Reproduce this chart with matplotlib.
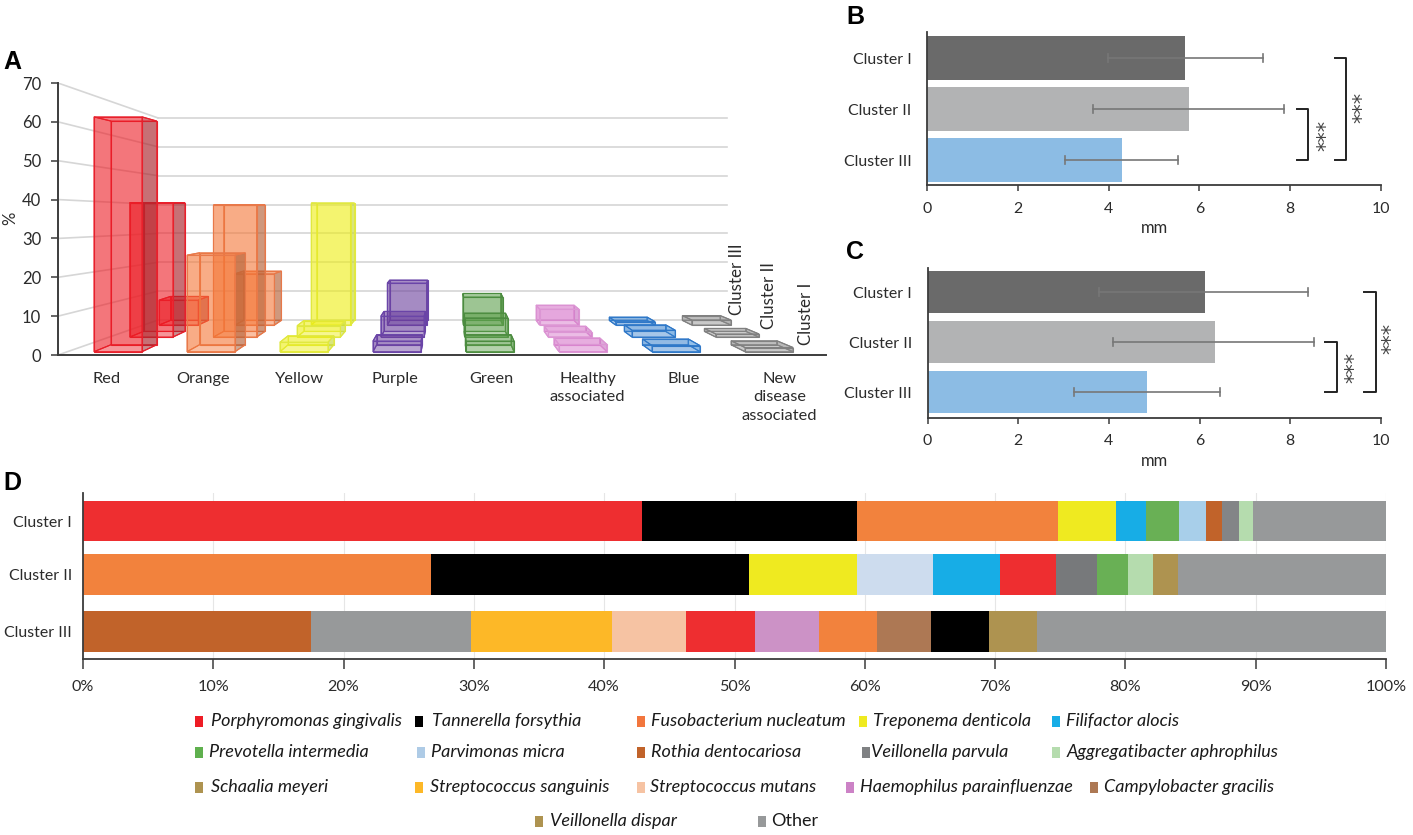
import matplotlib
matplotlib.use("Agg")
import matplotlib.pyplot as plt
from matplotlib.patches import Polygon, Rectangle

plt.rcParams['font.family'] = ['Lato', 'DejaVu Sans']
W, H = 1413, 835
TXT = '#2b2b2b'
AX = '#3c3c3c'

# ---------------- data ----------------
complexes = ['Red', 'Orange', 'Yellow', 'Purple', 'Green', 'Healthy\nassociated', 'Blue', 'New\ndisease\nassociated']
cluster1_pct = [61.8, 25.4, 2.5, 2.8, 2.8, 1.9, 1.6, 1.1]
cluster2_pct = [39.3, 38.6, 3.3, 6.1, 5.6, 1.6, 2.0, 0.9]
cluster3_pct = [8.0, 16.5, 39.2, 13.5, 9.0, 5.1, 1.1, 1.6]
complex_colors = ['#ed1c24', '#f57636', '#eeee11', '#6b3f9d', '#5ea04c', '#d66fc8', '#3d85d0', '#8c8c8c']
complex_edges = ['#e8202c', '#e8794a', '#e0e840', '#6a45a8', '#4c8c40', '#dc96d4', '#2f78c8', '#808080']
complex_sides = ['#8c2a30', '#9a5a3a', '#b5cf50', '#5a3a8c', '#4c8c40', '#c080c0', '#6aaee8', '#909090']

clusters = ['Cluster I', 'Cluster II', 'Cluster III']
bar_colors = ['#6a6a6a', '#b2b3b4', '#8cbce4']
b_mean = [5.68, 5.78, 4.30]
b_low = [3.98, 3.65, 3.03]
b_high = [7.40, 7.87, 5.53]
c_mean = [6.12, 6.33, 4.85]
c_low = [3.79, 4.10, 3.22]
c_high = [8.39, 8.52, 6.46]

d_values = [
    [42.9, 16.5, 15.4, 4.5, 2.3, 2.5, 2.1, 1.2, 1.3, 1.1, 10.2],
    [26.7, 24.4, 8.3, 5.8, 5.2, 4.3, 3.1, 2.4, 1.9, 1.9, 16.0],
    [17.5, 12.3, 10.8, 5.7, 5.3, 4.9, 4.4, 4.2, 4.4, 3.7, 26.8],
]
d_colors = [
    ['#ee2e30', '#000000', '#f2823d', '#efea20', '#17ade6', '#69b055', '#a8cfea', '#c1632a', '#838587', '#b5dcae', '#97999a'],
    ['#f2823d', '#000000', '#efea20', '#cddcee', '#17ade6', '#ee2e30', '#77797b', '#69b055', '#b5dcae', '#ae9350', '#97999a'],
    ['#c1632a', '#97999a', '#fdb827', '#f6c3a3', '#ee2e30', '#cc92c6', '#f2823d', '#ad7854', '#000000', '#ae9350', '#97999a'],
]
legend_rows = [
    ['Porphyromonas gingivalis', 'Tannerella forsythia', 'Fusobacterium nucleatum', 'Treponema denticola', 'Filifactor alocis'],
    ['Prevotella intermedia', 'Parvimonas micra', 'Rothia dentocariosa', 'Veillonella parvula', 'Aggregatibacter aphrophilus'],
    ['Schaalia meyeri', 'Streptococcus sanguinis', 'Streptococcus mutans', 'Haemophilus parainfluenzae', 'Campylobacter gracilis'],
    ['Veillonella dispar', 'Other'],
]
legend_colors = [
    ['#ee1c25', '#000000', '#f2763d', '#efea20', '#17ade6'],
    ['#5fb04e', '#aecbe6', '#c1632a', '#7f8183', '#b5dcae'],
    ['#ae9350', '#fdb827', '#f6c3a3', '#cc82c6', '#ad7854'],
    ['#ae9350', '#97999a'],
]

# ---------------- helpers ----------------
fig = plt.figure(figsize=(W / 100, H / 100), dpi=100, facecolor='white')


def ax_px(x0, top, x1, bottom, **kw):
    return fig.add_axes([x0 / W, 1 - bottom / H, (x1 - x0) / W, (bottom - top) / H], **kw)


def fig_text(x, y, s, **kw):
    kw.setdefault('color', TXT)
    kw.setdefault('va', 'center')
    fig.text(x / W, 1 - y / H, s, **kw)


# ---------------- Panel A: perspective 3D bars ----------------
axA = ax_px(58, 83, 826, 355)
axA.set_xlim(58, 826)
axA.set_ylim(0, 70)
VX, VY, FLOOR, PX_PER_PCT, AXIS_BASE, AXIS_SCALE = 452, 205, 351.7, 3.8, 355, 3.886
DEPTH_STEP, DEPTH_THICK, X_START, X_STEP, BAR_W = 0.111, 0.05, 94, 93, 48


def proj(X, z, v):
    s = 1 / (1 + z)
    x = VX + (X - VX) * s
    ypx = VY + (FLOOR - v * PX_PER_PCT - VY) * s
    return x, (AXIS_BASE - ypx) / AXIS_SCALE


# back wall and side wall lines
for v in range(0, 80, 10):
    wall = 9 + v * 0.743
    axA.plot([158, 727], [wall, wall], color='#d6d6d6', lw=1.2, zorder=1)
    axA.plot([58, 158], [v, wall], color='#d6d6d6', lw=1.2, zorder=1)


def box(i, k, v):
    xl = X_START + X_STEP * i
    xr = xl + BAR_W
    zf = k * DEPTH_STEP
    zb = zf + DEPTH_THICK
    P = proj
    col, edge, side = complex_colors[i], complex_edges[i], complex_sides[i]
    faces = [
        ([P(xl, zb, 0), P(xr, zb, 0), P(xr, zb, v), P(xl, zb, v)], col, 0.37),
        ([P(xl, zf, 0), P(xr, zf, 0), P(xr, zb, 0), P(xl, zb, 0)], col, 0.15),
        ([P(xl, zf, 0), P(xl, zb, 0), P(xl, zb, v), P(xl, zf, v)], col, 0.37),
        ([P(xr, zf, 0), P(xr, zb, 0), P(xr, zb, v), P(xr, zf, v)], side, 0.45),
        ([P(xl, zf, v), P(xr, zf, v), P(xr, zb, v), P(xl, zb, v)], col, 0.30),
        ([P(xl, zf, 0), P(xr, zf, 0), P(xr, zf, v), P(xl, zf, v)], col, 0.37),
    ]
    for pts, c, a in faces:
        axA.add_patch(Polygon(pts, closed=True, facecolor=matplotlib.colors.to_rgba(c, a),
                              edgecolor=edge, lw=0.8, zorder=3 + (2 - k), clip_on=False))


for k, series in reversed(list(enumerate([cluster1_pct, cluster2_pct, cluster3_pct]))):
    for i, v in enumerate(series):
        box(i, k, v)

for sp in ['top', 'right']:
    axA.spines[sp].set_visible(False)
for sp in ['left', 'bottom']:
    axA.spines[sp].set_color(AX)
    axA.spines[sp].set_linewidth(1.4)
axA.set_yticks(range(0, 80, 10))
axA.tick_params(axis='y', length=5, width=1.1, color=AX, pad=7, labelsize=12, labelcolor=TXT)
axA.set_xticks([107 + 96.1 * i for i in range(len(complexes))])
axA.set_xticklabels(complexes, fontsize=11.8, color=TXT, linespacing=1.42)
axA.tick_params(axis='x', length=0, pad=12)
fig_text(10, 218, '%', rotation=90, ha='center', fontsize=12)
for s, x, yb in [('Cluster III', 737, 315), ('Cluster II', 769, 329), ('Cluster I', 806, 345)]:
    fig_text(x, yb, s, rotation=90, ha='center', va='bottom', fontsize=12.2)


# ---------------- Panels B and C ----------------
def hbar_panel(rect, ylim, mean, low, high, brackets, stars):
    ax = ax_px(*rect)
    ypos = range(len(clusters))
    ax.barh(list(ypos), mean, height=0.85, color=bar_colors, zorder=2)
    for y, lo, hi in zip(ypos, low, high):
        ax.plot([lo, hi], [y, y], color='#777777', lw=1.2, zorder=3)
        for e in (lo, hi):
            ax.plot([e, e], [y - 0.075, y + 0.075], color='#777777', lw=1.2, zorder=3)
    ax.set_xlim(0, 10)
    ax.set_ylim(*ylim)
    ax.set_yticks(list(ypos))
    ax.set_yticklabels(clusters, fontsize=11.4, color=TXT)
    ax.set_xticks(range(0, 12, 2))
    ax.tick_params(axis='y', length=0, pad=11)
    ax.tick_params(axis='x', length=4, width=1.1, color=AX, labelsize=11.4, labelcolor=TXT, pad=8)
    ax.set_xlabel('mm', fontsize=12, color=TXT, labelpad=3)
    for sp in ['top', 'right']:
        ax.spines[sp].set_visible(False)
    for sp in ['left', 'bottom']:
        ax.spines[sp].set_color(AX)
        ax.spines[sp].set_linewidth(1.3)
    for (x0, x1, y0, y1), (sx, sy) in zip(brackets, stars):
        ax.plot([x0, x1, x1, x0], [y0, y0, y1, y1], color='#222222', lw=1.4, clip_on=False, zorder=4)
        ax.text(sx, sy, '***', rotation=90, ha='center', va='center', fontsize=15,
                color='#444444', clip_on=False, family='DejaVu Sans')
    return ax


hbar_panel((927, 32, 1381, 185), (2.49, -0.51), b_mean, b_low, b_high,
           [(8.15, 8.4, 1.0, 2.0), (8.98, 9.24, 0.0, 2.0)],
           [(8.8, 1.51), (9.6, 0.96)])
hbar_panel((927.5, 268, 1381, 417.7), (2.51, -0.48), c_mean, c_low, c_high,
           [(8.77, 9.04, 1.0, 2.0), (9.62, 9.88, 0.0, 2.0)],
           [(9.41, 1.5), (10.24, 0.92)])

# ---------------- Panel D ----------------
axD = ax_px(83, 493, 1386, 659)
d_pos = [0, 0.968, 2]
for y, vals, cols in zip(d_pos, d_values, d_colors):
    left = 0
    for v, c in zip(vals, cols):
        axD.barh(y, v, left=left, height=0.733, color=c, zorder=2)
        left += v
axD.set_xlim(0, 100)
axD.set_ylim(2.498, -0.507)
axD.set_yticks(d_pos)
axD.set_yticklabels(clusters, fontsize=11.4, color=TXT)
axD.tick_params(axis='y', length=0, pad=8)
axD.set_xticks(range(0, 110, 10))
axD.set_xticklabels([f'{p}%' for p in range(0, 110, 10)], fontsize=11.6, color=TXT)
axD.tick_params(axis='x', length=7, width=1.1, color=AX, pad=8)
axD.grid(axis='x', color='#e6e6e6', lw=0.8, zorder=0)
for sp in ['top', 'right']:
    axD.spines[sp].set_visible(False)
for sp in ['left', 'bottom']:
    axD.spines[sp].set_color(AX)
    axD.spines[sp].set_linewidth(1.3)

# legend laid out in rows
leg = ax_px(0, 0, W, H)
leg.set_xlim(0, W)
leg.set_ylim(H, 0)
leg.axis('off')
leg.patch.set_alpha(0)
row_y = [721, 752, 787, 821]
row_sq = [
    [199, 419, 641, 863, 1056],
    [199, 421, 641, 866, 1056],
    [199, 419, 641, 850, 1094],
    [539, 762],
]
row_tx = [
    [211, 432, 651, 873, 1066],
    [209, 431, 651, 871, 1067],
    [211, 430, 650, 860, 1104],
    [550, 771],
]
for r, names in enumerate(legend_rows):
    for j, name in enumerate(names):
        leg.add_patch(Rectangle((row_sq[r][j] - 4, row_y[r] - 5), 8, 11, color=legend_colors[r][j], lw=0))
        leg.text(row_tx[r][j], row_y[r], name, fontsize=13, color='#1a1a1a', va='center',
                 style='normal' if name == 'Other' else 'italic')

# panel letters
for s, x, y in [('A', 3, 62), ('B', 846, 17), ('C', 846, 252), ('D', 3, 483)]:
    fig_text(x, y, s, fontsize=18, fontweight='bold', color='black', ha='left',
             family='Liberation Sans')

fig.savefig('out.png', dpi=100, facecolor='white')
